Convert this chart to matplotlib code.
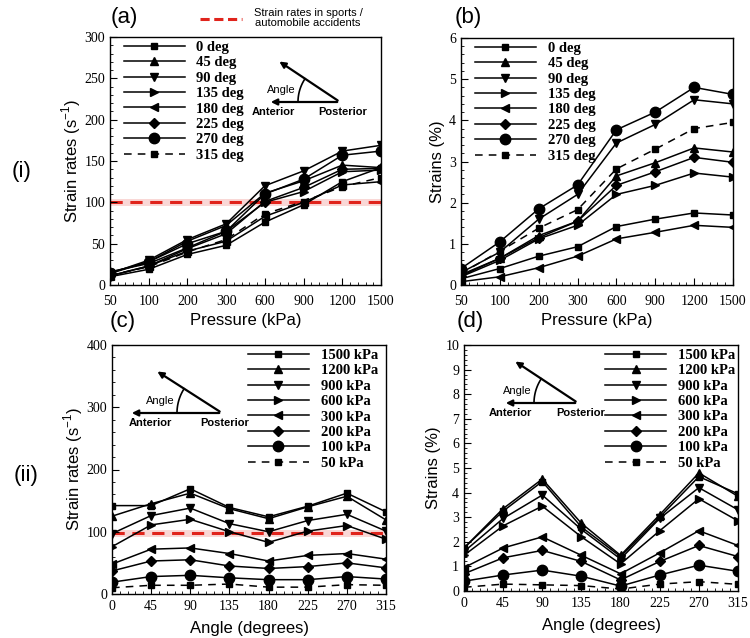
import numpy as np
import matplotlib
matplotlib.use("Agg")
import matplotlib.pyplot as plt
from matplotlib.ticker import MultipleLocator, AutoMinorLocator

plt.rcParams["font.family"] = ["Liberation Serif", "DejaVu Serif"]
plt.rcParams["mathtext.fontset"] = "custom"
plt.rcParams["mathtext.rm"] = "Liberation Sans"

# ── Data ──────────────────────────────────────────────────────────────────────
pressures = ["50", "100", "200", "300", "600", "900", "1200", "1500"]
angles = [0, 45, 90, 135, 180, 225, 270, 315]
angle_labels = ["0 deg", "45 deg", "90 deg", "135 deg", "180 deg", "225 deg", "270 deg", "315 deg"]
pressure_labels = ["1500 kPa", "1200 kPa", "900 kPa", "600 kPa", "300 kPa", "200 kPa", "100 kPa", "50 kPa"]

# (a) strain rate vs pressure, one series per angle
rate_0   = [10, 19, 37, 48, 76, 97, 125, 142]
rate_45  = [14, 28, 53, 72, 111, 126, 145, 142]
rate_90  = [14, 30, 55, 74, 120, 138, 162, 169]
rate_135 = [16, 26, 45, 65, 100, 113, 137, 139]
rate_180 = [11, 23, 41, 53, 83, 100, 121, 125]
rate_225 = [11, 23, 44, 62, 101, 118, 140, 141]
rate_270 = [15, 28, 50, 65, 110, 128, 157, 162]
rate_315 = [12, 22, 40, 55, 86, 101, 119, 130]

# (b) strain vs pressure, one series per angle
strain_0   = [0.15, 0.40, 0.70, 0.93, 1.42, 1.60, 1.75, 1.70]
strain_45  = [0.25, 0.65, 1.20, 1.55, 2.65, 2.97, 3.33, 3.23]
strain_90  = [0.30, 0.80, 1.60, 2.20, 3.45, 3.90, 4.50, 4.40]
strain_135 = [0.20, 0.60, 1.12, 1.45, 2.20, 2.42, 2.72, 2.62]
strain_180 = [0.08, 0.20, 0.42, 0.70, 1.12, 1.28, 1.45, 1.40]
strain_225 = [0.22, 0.65, 1.15, 1.55, 2.42, 2.75, 3.10, 2.98]
strain_270 = [0.40, 1.05, 1.85, 2.43, 3.77, 4.20, 4.80, 4.63]
strain_315 = [0.28, 0.82, 1.38, 1.83, 2.82, 3.30, 3.80, 3.95]

# (c) strain rate vs angle, one series per pressure
rate_p1500 = [142, 142, 169, 139, 124, 141, 162, 132]
rate_p1200 = [125, 145, 162, 137, 121, 140, 157, 119]
rate_p900  = [97, 126, 138, 113, 100, 118, 128, 101]
rate_p600  = [76, 111, 120, 100, 83, 101, 110, 88]
rate_p300  = [48, 72, 74, 65, 53, 62, 65, 56]
rate_p200  = [37, 53, 55, 45, 41, 44, 50, 42]
rate_p100  = [19, 28, 30, 26, 23, 23, 28, 24]
rate_p50   = [10, 14, 14, 16, 11, 11, 15, 14]

# (d) strain vs angle, one series per pressure
strain_p1500 = [1.75, 3.25, 4.45, 2.60, 1.40, 3.00, 4.65, 3.95]
strain_p1200 = [1.75, 3.35, 4.55, 2.75, 1.45, 3.10, 4.80, 3.85]
strain_p900  = [1.60, 2.95, 3.90, 2.50, 1.30, 2.95, 4.20, 3.30]
strain_p600  = [1.45, 2.65, 3.45, 2.20, 1.10, 2.45, 3.75, 2.85]
strain_p300  = [0.95, 1.75, 2.20, 1.45, 0.70, 1.55, 2.45, 1.85]
strain_p200  = [0.70, 1.35, 1.65, 1.20, 0.45, 1.20, 1.85, 1.40]
strain_p100  = [0.40, 0.65, 0.85, 0.60, 0.20, 0.65, 1.05, 0.80]
strain_p50   = [0.15, 0.28, 0.25, 0.22, 0.08, 0.28, 0.38, 0.27]

threshold_a = 100
threshold_c = 98

# ── Styles ────────────────────────────────────────────────────────────────────
markers = ["s", "^", "v", ">", "<", "D", "o", "s"]
msizes = [5, 6, 6, 6, 6, 5, 7.5, 5]
lstyles = ["-"] * 7 + ["--"]
RED = "#e0241c"

W, H = 750, 638
fig = plt.figure(figsize=(W / 100, H / 100), dpi=100)


def px_axes(left, top, right, bottom):
    return fig.add_axes([left / W, 1 - bottom / H, (right - left) / W, (bottom - top) / H])


def style_axes(ax, xpad):
    ax.tick_params(which="both", direction="in", labelsize=10, top=False, right=False)
    ax.tick_params(which="major", length=5, width=0.8)
    ax.tick_params(which="minor", length=2.5, width=0.6)
    ax.tick_params(axis="x", pad=xpad)
    for s in ax.spines.values():
        s.set_linewidth(1.0)


def plot_series(ax, x, series, labels):
    for y, lab, m, ms, ls in zip(series, labels, markers, msizes, lstyles):
        ax.plot(x, y, color="black", lw=1.1, ls=ls, marker=m, ms=ms,
                dashes=(5, 4) if ls == "--" else (None, None), label=lab)


def red_line(ax, y):
    ax.axhline(y, color=RED, lw=5, alpha=0.18, zorder=1)
    ax.axhline(y, color=RED, lw=2.2, ls=(0, (4, 2.5)), zorder=1.5)


sans = {"family": ["Liberation Sans", "DejaVu Sans"]}
leg_kw = dict(frameon=False, borderpad=0, borderaxespad=0, handlelength=4.2,
              handletextpad=0.8, labelspacing=0.15,
              prop={"family": "Liberation Serif", "weight": "bold", "size": 10.5})

ax_a = px_axes(110, 37, 381, 285)
ax_b = px_axes(461, 38, 733, 285)
ax_c = px_axes(112, 345, 386, 594)
ax_d = px_axes(464, 345, 738, 591)

xi = np.arange(len(pressures))

# (a)
plot_series(ax_a, xi, [rate_0, rate_45, rate_90, rate_135, rate_180, rate_225, rate_270, rate_315], angle_labels)
red_line(ax_a, threshold_a)
ax_a.set_ylim(0, 300)
ax_a.yaxis.set_major_locator(MultipleLocator(50))
ax_a.yaxis.set_minor_locator(AutoMinorLocator(5))
ax_a.set_ylabel("Strain rates (s$^{-1}$)", fontdict=sans, fontsize=12, labelpad=1)
ax_a.legend(loc="upper left", bbox_to_anchor=(0.05, 0.985), **leg_kw)

# (b)
plot_series(ax_b, xi, [strain_0, strain_45, strain_90, strain_135, strain_180, strain_225, strain_270, strain_315], angle_labels)
ax_b.set_ylim(0, 6)
ax_b.yaxis.set_major_locator(MultipleLocator(1))
ax_b.yaxis.set_minor_locator(AutoMinorLocator(5))
ax_b.set_ylabel("Strains (%)", fontdict=sans, fontsize=12, labelpad=3)
ax_b.legend(loc="upper left", bbox_to_anchor=(0.05, 0.985), **leg_kw)

for ax in (ax_a, ax_b):
    ax.set_xlim(0, len(pressures) - 1)
    ax.set_xticks(xi)
    ax.set_xticklabels(pressures)
    ax.xaxis.set_minor_locator(AutoMinorLocator(5))
    ax.set_xlabel("Pressure (kPa)", fontdict=sans, fontsize=12, labelpad=4)
    style_axes(ax, 7)

# (c)
plot_series(ax_c, angles, [rate_p1500, rate_p1200, rate_p900, rate_p600, rate_p300, rate_p200, rate_p100, rate_p50], pressure_labels)
red_line(ax_c, threshold_c)
ax_c.set_ylim(0, 400)
ax_c.yaxis.set_major_locator(MultipleLocator(100))
ax_c.yaxis.set_minor_locator(AutoMinorLocator(5))
ax_c.set_ylabel("Strain rates (s$^{-1}$)", fontdict=sans, fontsize=12, labelpad=1)
ax_c.legend(loc="upper right", bbox_to_anchor=(0.97, 0.985), **leg_kw)

# (d)
plot_series(ax_d, angles, [strain_p1500, strain_p1200, strain_p900, strain_p600, strain_p300, strain_p200, strain_p100, strain_p50], pressure_labels)
ax_d.set_ylim(0, 10)
ax_d.yaxis.set_major_locator(MultipleLocator(1))
ax_d.yaxis.set_minor_locator(AutoMinorLocator(5))
ax_d.set_ylabel("Strains (%)", fontdict=sans, fontsize=12, labelpad=3)
ax_d.legend(loc="upper right", bbox_to_anchor=(0.99, 0.985), **leg_kw)

for ax in (ax_c, ax_d):
    ax.set_xlim(0, 315)
    ax.set_xticks(angles)
    ax.xaxis.set_minor_locator(AutoMinorLocator(5))
    ax.set_xlabel("Angle (degrees)", fontdict=sans, fontsize=12, labelpad=6)
    style_axes(ax, 4)

# ── overlay in pixel coordinates: labels, top legend, angle sketches ─────────
ov = fig.add_axes([0, 0, 1, 1], zorder=10)
ov.set_xlim(0, W)
ov.set_ylim(H, 0)
ov.axis("off")
ov.patch.set_alpha(0)

for txt, x, y in [("(a)", 124, 17), ("(b)", 468, 17), ("(c)", 123, 321),
                  ("(d)", 470, 321), ("(i)", 22, 172), ("(ii)", 26, 476)]:
    ov.text(x, y, txt, ha="center", va="center", fontdict=sans, fontsize=16)

ov.plot([200, 242], [19, 19], color=RED, lw=2.2, ls=(0, (3, 1.5)))
ov.text(308, 18, "Strain rates in sports /\nautomobile accidents", ha="center",
        va="center", fontdict=sans, fontsize=8, linespacing=1.1)


def angle_sketch(px, py, hlen, dx, dy, r, ant_x):
    # posterior point at (px, py); arrows to the left and up-left
    ov.annotate("", xy=(px - hlen, py), xytext=(px, py),
                arrowprops=dict(arrowstyle="-|>", color="black", lw=1.6, mutation_scale=9))
    ov.annotate("", xy=(px - dx, py - dy), xytext=(px, py),
                arrowprops=dict(arrowstyle="-|>", color="black", lw=1.6, mutation_scale=9))
    a0 = np.pi - np.arctan2(dy, dx)
    t = np.linspace(a0, np.pi, 30)
    ov.plot(px + r * np.cos(t), py - r * np.sin(t), color="black", lw=1.2)
    ov.text(px - r - 2, py - 12, "Angle", ha="right", va="center", fontdict=sans, fontsize=8)
    ov.text(ant_x, py + 10, "Anterior", ha="center", va="center",
            fontdict=sans, fontsize=8, fontweight="bold")
    ov.text(px + 3, py + 10, "Posterior", ha="center", va="center",
            fontdict=sans, fontsize=8, fontweight="bold")


angle_sketch(340, 102, 72, 63, 42, 42, 273)
angle_sketch(222, 413, 93, 67, 43, 45, 150)
angle_sketch(578, 403, 75, 65, 43, 44, 510)

fig.savefig("out.png", dpi=100)
